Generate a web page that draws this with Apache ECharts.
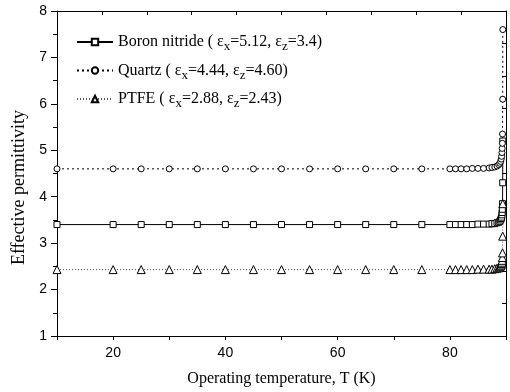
<!DOCTYPE html>
<html>
<head>
<meta charset="utf-8">
<script src="https://cdn.jsdelivr.net/npm/echarts@6/dist/echarts.min.js"></script>
<style>html,body{margin:0;padding:0;background:#fff}#c{width:510px;height:392px}</style>
</head>
<body>
<div id="c"></div>
<script>
const temperature = [10, 20, 25, 30, 35, 40, 45, 50, 55, 60, 65, 70, 75, 80, 81, 82, 83, 84, 85, 86, 87, 87.5, 88, 88.4, 88.7, 88.9, 89.05, 89.15, 89.22, 89.28, 89.32, 89.35, 89.38, 89.41, 89.43];
const boronNitride = [3.40, 3.40, 3.40, 3.40, 3.40, 3.40, 3.40, 3.40, 3.40, 3.40, 3.40, 3.40, 3.40, 3.40, 3.40, 3.40, 3.40, 3.40, 3.41, 3.41, 3.41, 3.42, 3.42, 3.44, 3.45, 3.47, 3.50, 3.53, 3.56, 3.61, 3.66, 3.73, 3.85, 4.30, 5.20];
const quartz = [4.60, 4.60, 4.60, 4.60, 4.60, 4.60, 4.60, 4.60, 4.60, 4.60, 4.60, 4.60, 4.60, 4.60, 4.60, 4.60, 4.60, 4.61, 4.61, 4.61, 4.62, 4.63, 4.64, 4.66, 4.69, 4.72, 4.76, 4.81, 4.87, 4.95, 5.04, 5.15, 5.35, 6.10, 7.60];
const ptfe = [2.43, 2.43, 2.43, 2.43, 2.43, 2.43, 2.43, 2.43, 2.43, 2.43, 2.43, 2.43, 2.43, 2.43, 2.43, 2.43, 2.43, 2.43, 2.44, 2.44, 2.44, 2.44, 2.45, 2.46, 2.47, 2.49, 2.51, 2.53, 2.56, 2.59, 2.63, 2.69, 2.79, 3.15, 3.85];
const seriesNames = ['Boron nitride', 'Quartz', 'PTFE'];
const epsX = ['5.12', '4.44', '2.88'];
const epsZ = ['3.4', '4.60', '2.43'];
const xTickLabels = [20, 40, 60, 80];
const yTickLabels = [1, 2, 3, 4, 5, 6, 7, 8];

const pairs = v => temperature.map((t, i) => [t, v[i]]);
const serif = 'Liberation Serif';
const sans = 'Liberation Sans';

const chart = echarts.init(document.getElementById('c'), null, {renderer: 'canvas'});
const axisLine = {show: true, onZero: false, lineStyle: {color: '#000', width: 1}};

chart.setOption({
  animation: false,
  backgroundColor: '#fff',
  grid: {left: 57, right: 4, top: 11, bottom: 55},
  legend: {
    orient: 'vertical', left: 71, top: 29, itemGap: 9,
    itemWidth: 36, itemHeight: 8,
    data: seriesNames,
    formatter: name => {
      const i = seriesNames.indexOf(name);
      return '{a|' + name + ' ( ε}{s|x}{a|=' + epsX[i] + ', ε}{s|z}{a|=' + epsZ[i] + ')}';
    },
    textStyle: {
      fontFamily: serif, fontSize: 16, color: '#000',
      rich: {
        a: {fontFamily: serif, fontSize: 16, color: '#000'},
        s: {fontFamily: serif, fontSize: 13, color: '#000', padding: [10, 0, 0, 0]}
      }
    }
  },
  xAxis: [{
    type: 'value', min: 10, max: 90, interval: 10, position: 'bottom',
    name: 'Operating temperature, T (K)', nameLocation: 'middle', nameGap: 35,
    nameTextStyle: {fontFamily: serif, fontSize: 16, color: '#000'},
    axisLine: axisLine,
    axisTick: {show: true, inside: false, length: 4, lineStyle: {color: '#000'}},
    axisLabel: {fontFamily: sans, fontSize: 14, color: '#000', margin: 10,
      formatter: v => xTickLabels.indexOf(v) >= 0 ? String(v) : ''},
    splitLine: {show: false}
  }, {
    type: 'value', min: 0, max: 10, interval: 1, position: 'top',
    axisLine: axisLine,
    axisTick: {show: true, inside: true, length: 4, lineStyle: {color: '#000'}},
    axisLabel: {show: false}, splitLine: {show: false}
  }],
  yAxis: [{
    type: 'value', min: 1, max: 8, interval: 1, position: 'left',
    name: 'Effective permittivity', nameLocation: 'middle', nameGap: 25,
    nameTextStyle: {fontFamily: serif, fontSize: 18, color: '#000', padding: [0, 28, 0, 0]},
    axisLine: axisLine,
    axisTick: {show: true, inside: false, length: 6, lineStyle: {color: '#000'}},
    minorTick: {show: true, splitNumber: 2, length: 4, lineStyle: {color: '#000'}},
    axisLabel: {fontFamily: sans, fontSize: 14, color: '#000', margin: 10,
      formatter: v => yTickLabels.indexOf(v) >= 0 ? String(v) : ''},
    splitLine: {show: false}, minorSplitLine: {show: false}
  }, {
    type: 'value', min: 0, max: 10, interval: 1, position: 'right',
    axisLine: axisLine,
    axisTick: {show: true, inside: true, length: 4, lineStyle: {color: '#000'}},
    axisLabel: {show: false}, splitLine: {show: false}
  }],
  series: [{
    name: seriesNames[0], type: 'line', data: pairs(boronNitride),
    symbol: 'rect', symbolSize: 6,
    lineStyle: {color: '#000', width: 1, type: 'solid'},
    itemStyle: {color: '#fff', borderColor: '#000', borderWidth: 1},
    emphasis: {disabled: true}
  }, {
    name: seriesNames[1], type: 'line', data: pairs(quartz),
    symbol: 'circle', symbolSize: 6,
    lineStyle: {color: '#000', width: 1, type: [2, 3]},
    itemStyle: {color: '#fff', borderColor: '#000', borderWidth: 1},
    emphasis: {disabled: true}
  }, {
    name: seriesNames[2], type: 'line', data: pairs(ptfe),
    symbol: 'triangle', symbolSize: 8,
    lineStyle: {color: '#555', width: 1, type: [1, 2]},
    itemStyle: {color: '#fff', borderColor: '#000', borderWidth: 1},
    emphasis: {disabled: true}
  }]
});
</script>
</body>
</html>
